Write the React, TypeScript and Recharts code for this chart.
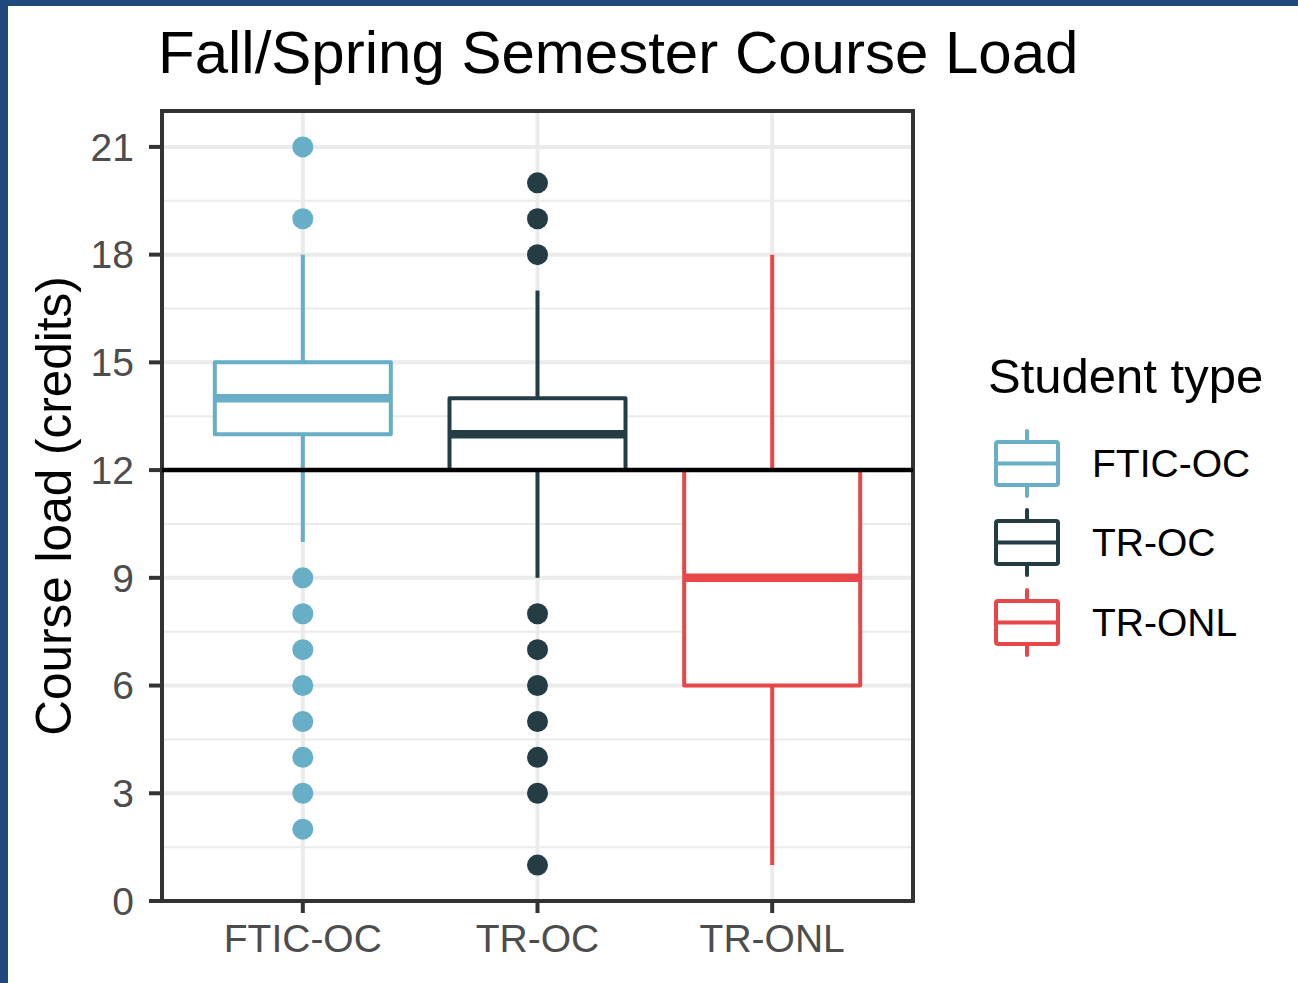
import React from "react";
import {
  CartesianGrid,
  ComposedChart,
  ReferenceArea,
  ReferenceLine,
  Scatter,
  XAxis,
  YAxis,
} from "recharts";

const categories = ["FTIC-OC", "TR-OC", "TR-ONL"];
const colors = ["#67aec6", "#243d45", "#e8474a"];
const lowerWhisker = [10, 9, 1];
const q1 = [13, 12, 6];
const medians = [14, 13, 9];
const q3 = [15, 14, 12];
const upperWhisker = [18, 17, 18];
const outliersFticOc = [21, 19, 9, 8, 7, 6, 5, 4, 3, 2];
const outliersTrOc = [20, 19, 18, 8, 7, 6, 5, 4, 3, 1];
const outliersTrOnl: number[] = [];
const yTicks = [0, 3, 6, 9, 12, 15, 18, 21];
const yMinor = [1.5, 4.5, 7.5, 10.5, 13.5, 16.5, 19.5];
const fullLoad = 12;

const outliers = [outliersFticOc, outliersTrOc, outliersTrOnl];
const HALF = 0.375;
const FONT = "'Liberation Sans', Arial, Helvetica, sans-serif";

function LegendKey({ color }: { color: string }) {
  return (
    <svg width={72} height={72} style={{ display: "block" }}>
      <line x1={39} y1={3} x2={39} y2={14} stroke={color} strokeWidth={4} strokeLinecap="round" />
      <line x1={39} y1={57} x2={39} y2={68} stroke={color} strokeWidth={4} strokeLinecap="round" />
      <rect x={8} y={14} width={62} height={43} rx={2} fill="#fff" stroke={color} strokeWidth={4} />
      <line x1={8} y1={35.5} x2={70} y2={35.5} stroke={color} strokeWidth={4} />
    </svg>
  );
}

export default function App() {
  return (
    <div style={{ position: "absolute", left: 0, top: 0, width: 1298, height: 983, background: "#fff", overflow: "hidden", fontFamily: FONT }}>
      <div style={{ position: "absolute", left: 0, top: 0 }}>
        <ComposedChart width={1298} height={983} margin={{ top: 111, right: 385, bottom: 22, left: 62 }}>
          <CartesianGrid horizontalValues={yMinor} vertical={false} stroke="#ebebeb" strokeWidth={2} />
          <CartesianGrid stroke="#ebebeb" strokeWidth={4} />
          <XAxis
            type="number"
            dataKey="x"
            domain={[0.4, 3.6]}
            ticks={[1, 2, 3]}
            allowDataOverflow
            height={60}
            tickFormatter={(v: number) => categories[v - 1]}
            axisLine={false}
            tickSize={12}
            tickMargin={11}
            tickLine={{ stroke: "#333", strokeWidth: 4 }}
            tick={{ fontSize: 39, fill: "#4d4d4d", fontFamily: FONT }}
          />
          <YAxis
            type="number"
            dataKey="y"
            domain={[0, 22]}
            ticks={yTicks}
            allowDataOverflow
            width={100}
            axisLine={false}
            tickSize={13}
            tickMargin={15}
            tickLine={{ stroke: "#333", strokeWidth: 4 }}
            tick={{ fontSize: 39, fill: "#4d4d4d", fontFamily: FONT }}
          />
          {categories.map((c, i) => (
            <ReferenceLine
              key={c + "-wl"}
              segment={[{ x: i + 1, y: lowerWhisker[i] }, { x: i + 1, y: q1[i] }]}
              stroke={colors[i]}
              strokeWidth={4}
            />
          ))}
          {categories.map((c, i) => (
            <ReferenceLine
              key={c + "-wu"}
              segment={[{ x: i + 1, y: q3[i] }, { x: i + 1, y: upperWhisker[i] }]}
              stroke={colors[i]}
              strokeWidth={4}
            />
          ))}
          {categories.map((c, i) => (
            <ReferenceArea
              key={c + "-box"}
              x1={i + 1 - HALF}
              x2={i + 1 + HALF}
              y1={q1[i]}
              y2={q3[i]}
              fill="#fff"
              fillOpacity={1}
              stroke={colors[i]}
              strokeWidth={4}
              strokeLinejoin="round"
            />
          ))}
          {categories.map((c, i) => (
            <ReferenceLine
              key={c + "-med"}
              segment={[{ x: i + 1 - HALF, y: medians[i] }, { x: i + 1 + HALF, y: medians[i] }]}
              stroke={colors[i]}
              strokeWidth={8.5}
            />
          ))}
          {categories.map((c, i) => (
            <Scatter
              key={c + "-out"}
              data={outliers[i].map((y) => ({ x: i + 1, y }))}
              fill={colors[i]}
              isAnimationActive={false}
              shape={(p: any) => <circle cx={p.cx} cy={p.cy} r={10.5} fill={colors[i]} />}
            />
          ))}
          <ReferenceLine y={fullLoad} stroke="#000" strokeWidth={4.5} />
          <ReferenceArea x1={0.4} x2={3.6} y1={0} y2={22} fill="none" stroke="#333" strokeWidth={4} ifOverflow="visible" />
        </ComposedChart>
      </div>

      <div style={{ position: "absolute", left: 158, top: 19, fontSize: 60, color: "#000", whiteSpace: "nowrap", lineHeight: "68px" }}>
        Fall/Spring Semester Course Load
      </div>

      <div
        style={{
          position: "absolute",
          left: 53,
          top: 506,
          transform: "translate(-50%, -50%) rotate(-90deg)",
          fontSize: 49.5,
          color: "#000",
          whiteSpace: "nowrap",
        }}
      >
        Course load (credits)
      </div>

      <div style={{ position: "absolute", left: 988, top: 348 }}>
        <div style={{ fontSize: 49, color: "#000", whiteSpace: "nowrap", lineHeight: "56px" }}>Student type</div>
        <div style={{ marginTop: 20 }}>
          {categories.map((c, i) => (
            <div key={c} style={{ display: "flex", alignItems: "center", height: 79.5 }}>
              <LegendKey color={colors[i]} />
              <span style={{ marginLeft: 32, fontSize: 39, color: "#000", whiteSpace: "nowrap" }}>{c}</span>
            </div>
          ))}
        </div>
      </div>

      <div style={{ position: "absolute", zIndex: 10, left: 0, top: 0, width: 1298, height: 6, background: "#1f497d" }} />
      <div style={{ position: "absolute", zIndex: 10, left: 0, top: 0, width: 8, height: 983, background: "#1f497d" }} />
    </div>
  );
}
